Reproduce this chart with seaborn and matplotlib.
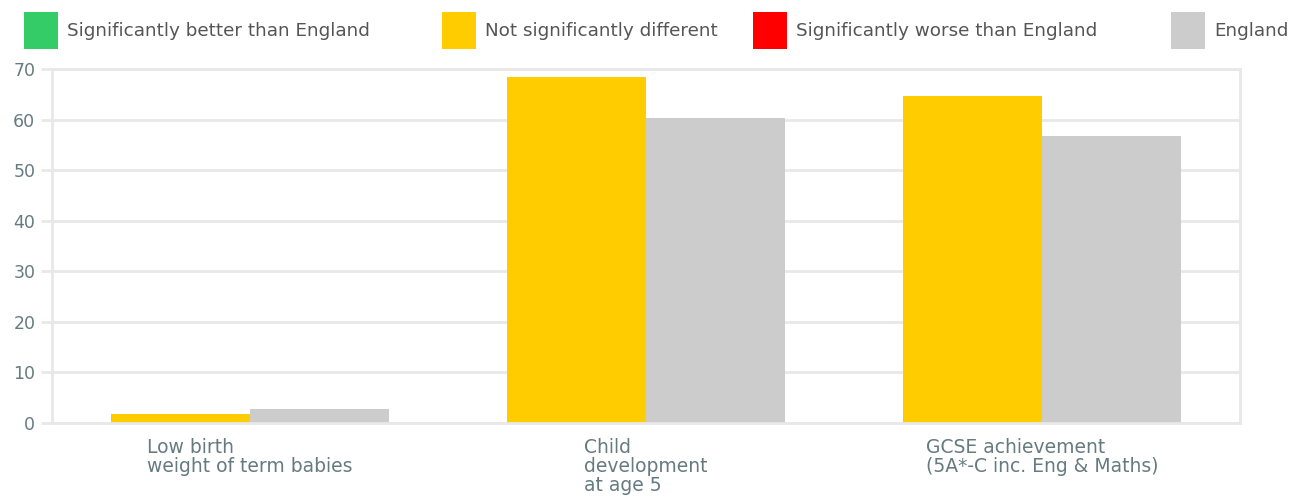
import matplotlib
matplotlib.use("Agg")
import matplotlib.pyplot as plt
from matplotlib.patches import Patch
import seaborn as sns
import pandas as pd

# Indicator values (%)
categories = [
    "Low birth\nweight of term babies",
    "Child\ndevelopment\nat age 5",
    "GCSE achievement\n(5A*-C inc. Eng & Maths)",
]
area_values = [1.7, 68.4, 64.6]
england_values = [2.8, 60.4, 56.8]
area_status = ["Not significantly different"] * 3

legend_labels = [
    "Significantly better than England",
    "Not significantly different",
    "Significantly worse than England",
    "England",
]
legend_colors = ["#33cc66", "#ffcc00", "#ff0000", "#cccccc"]
y_ticks = [0, 10, 20, 30, 40, 50, 60, 70]

palette = dict(zip(legend_labels, legend_colors))

df = pd.DataFrame({
    "indicator": categories * 2,
    "value": area_values + england_values,
    "group": area_status + ["England"] * 3,
})

sns.set_theme(style="white")
plt.rcParams["font.family"] = ["DejaVu Sans"]

fig = plt.figure(figsize=(13.11, 5.04), dpi=100)
ax = fig.add_axes([52 / 1311, 1 - 423 / 504, (1240 - 52) / 1311, (423 - 69) / 504])

sns.barplot(
    data=df, x="indicator", y="value", hue="group",
    hue_order=["Not significantly different", "England"],
    palette=palette, width=0.7, saturation=1, ax=ax, legend=False,
    edgecolor="none",
)

grid_col = "#e8e8e8"
ax.set_ylim(0, 70)
ax.set_xlim(-0.5, 2.5)
ax.set_yticks(y_ticks)
ax.set_yticklabels([str(t) for t in y_ticks])
ax.yaxis.grid(True, color=grid_col, linewidth=2)
ax.set_axisbelow(True)
ax.set_xlabel("")
ax.set_ylabel("")

for side in ["left", "top", "right", "bottom"]:
    ax.spines[side].set_visible(True)
    ax.spines[side].set_color(grid_col)
    ax.spines[side].set_linewidth(2)

ax.tick_params(axis="y", length=8, width=2, color=grid_col, labelsize=12.5,
               labelcolor="#667b80", pad=4, left=True)
ax.tick_params(axis="x", length=0, labelsize=13.5, labelcolor="#667b80", pad=11)
for lbl in ax.get_xticklabels():
    lbl.set_multialignment("left")
    lbl.set_verticalalignment("top")
    lbl.set_linespacing(1.0)

# Significance key along the top
key_x = [24, 442, 753, 1171]
for x, lab, col in zip(key_x, legend_labels, legend_colors):
    leg = fig.legend(
        handles=[Patch(facecolor=col, edgecolor="none", label=lab)],
        loc="upper left", bbox_to_anchor=(x / 1311, 1 - 12 / 504),
        frameon=False, fontsize=13.2, handlelength=1.85, handleheight=2.7,
        handletextpad=0.5, borderaxespad=0, borderpad=0,
    )
    for t in leg.get_texts():
        t.set_color("#555555")

fig.savefig("out.png", dpi=100, facecolor="white")
